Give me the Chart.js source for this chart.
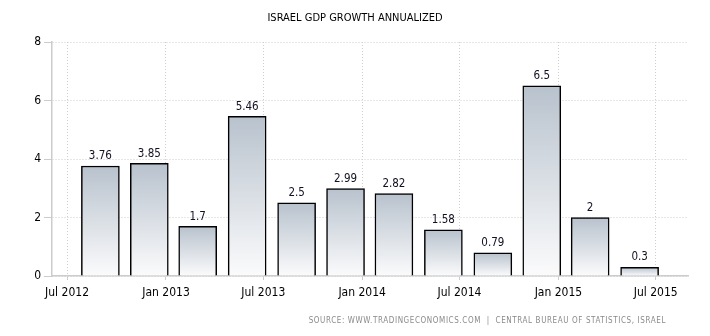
<!DOCTYPE html>
<html>
<head>
<meta charset="utf-8">
<script src="https://cdn.jsdelivr.net/npm/chart.js@4/dist/chart.umd.min.js"></script>
<style>
  html, body { margin: 0; padding: 0; background: #fff; }
  #wrap { position: relative; width: 710px; height: 336px; }
  #title { position: absolute; left: 0; top: 11px; width: 710px; text-align: center;
    font: 11px "DejaVu Sans Condensed", "DejaVu Sans", sans-serif; color: #000; }
  #source { position: absolute; right: 44px; top: 316px; white-space: nowrap;
    font: 8px "DejaVu Sans Condensed", "DejaVu Sans", sans-serif; color: #8a8a8a; letter-spacing: 0.6px; }
</style>
</head>
<body>
<div id="wrap">
  <canvas id="c" width="710" height="336"></canvas>
  <div id="title">ISRAEL GDP GROWTH ANNUALIZED</div>
  <div id="source">SOURCE: WWW.TRADINGECONOMICS.COM &nbsp;|&nbsp; CENTRAL BUREAU OF STATISTICS, ISRAEL</div>
</div>
<script>
// Quarter reference months (year-month)
const periods = ['2012-09','2012-12','2013-03','2013-06','2013-09','2013-12','2014-03','2014-06','2014-09','2014-12','2015-03','2015-06'];
const gdpGrowth = [3.76, 3.85, 1.7, 5.46, 2.5, 2.99, 2.82, 1.58, 0.79, 6.5, 2, 0.3];
const xTickDates = ['2012-07','2013-01','2013-07','2014-01','2014-07','2015-01','2015-07'];
const xTickLabels = ['Jul 2012','Jan 2013','Jul 2013','Jan 2014','Jul 2014','Jan 2015','Jul 2015'];
const yTicks = [0, 2, 4, 6, 8];

const toTime = s => { const [y, m] = s.split('-').map(Number); return Date.UTC(y, m - 1, 1); };
const FONT = '"DejaVu Sans Condensed", "DejaVu Sans", sans-serif';

const points = periods.map((p, i) => ({ x: toTime(p), y: gdpGrowth[i] }));
const tickTimes = xTickDates.map(toTime);

const valueLabels = {
  id: 'valueLabels',
  afterDatasetsDraw(chart) {
    const ctx = chart.ctx;
    const meta = chart.getDatasetMeta(0);
    ctx.save();
    ctx.font = '11.5px ' + FONT;
    ctx.fillStyle = '#111122';
    ctx.textAlign = 'center';
    ctx.textBaseline = 'bottom';
    meta.data.forEach((bar, i) => {
      ctx.fillText(String(gdpGrowth[i]), bar.x, bar.y - 4);
    });
    ctx.restore();
  }
};

new Chart(document.getElementById('c'), {
  type: 'bar',
  data: {
    datasets: [{
      data: points,
      barThickness: 38,
      borderColor: '#000',
      borderWidth: 1.5,
      borderSkipped: 'bottom',
      backgroundColor(ctx) {
        const chart = ctx.chart;
        if (!chart.chartArea || ctx.raw === undefined) return '#c8d0d8';
        const ys = chart.scales.y;
        const top = ys.getPixelForValue(ctx.raw.y);
        const bottom = ys.getPixelForValue(0);
        const g = chart.ctx.createLinearGradient(0, top, 0, bottom);
        g.addColorStop(0, '#b8c2cd');
        g.addColorStop(1, '#fbfbfc');
        return g;
      }
    }]
  },
  options: {
    responsive: false,
    animation: false,
    events: [],
    layout: { padding: { left: 0, right: 22, top: 42, bottom: 30 } },
    plugins: { legend: { display: false }, tooltip: { enabled: false }, title: { display: false } },
    scales: {
      x: {
        type: 'linear',
        offset: false,
        min: Date.UTC(2012, 5, 3),
        max: Date.UTC(2015, 7, 30),
        afterBuildTicks(axis) { axis.ticks = tickTimes.map(v => ({ value: v })); },
        afterFit(axis) { axis.height = 30; },
        ticks: {
          autoSkip: false,
          maxRotation: 0,
          padding: 6,
          color: '#000',
          font: { family: FONT, size: 12 },
          callback(v) { const i = tickTimes.indexOf(v); return i >= 0 ? xTickLabels[i] : ''; }
        },
        grid: { offset: false, color: '#cfcfcf', lineWidth: 1, tickLength: 4, tickColor: '#cccccc', tickBorderDash: [] },
        border: { display: true, color: '#cccccc', width: 1.5, dash: [1, 2] }
      },
      y: {
        min: 0, max: 8,
        afterBuildTicks(axis) { axis.ticks = yTicks.map(v => ({ value: v })); },
        afterFit(axis) { axis.width = 52; },
        ticks: { padding: 3, color: '#000', font: { family: FONT, size: 12 } },
        grid: { color: '#cfcfcf', lineWidth: 1, tickLength: 8, tickColor: '#cccccc', tickBorderDash: [] },
        border: { display: true, color: '#cccccc', width: 1.5, dash: [1, 2] }
      }
    }
  },
  plugins: [valueLabels]
});
</script>
</body>
</html>
